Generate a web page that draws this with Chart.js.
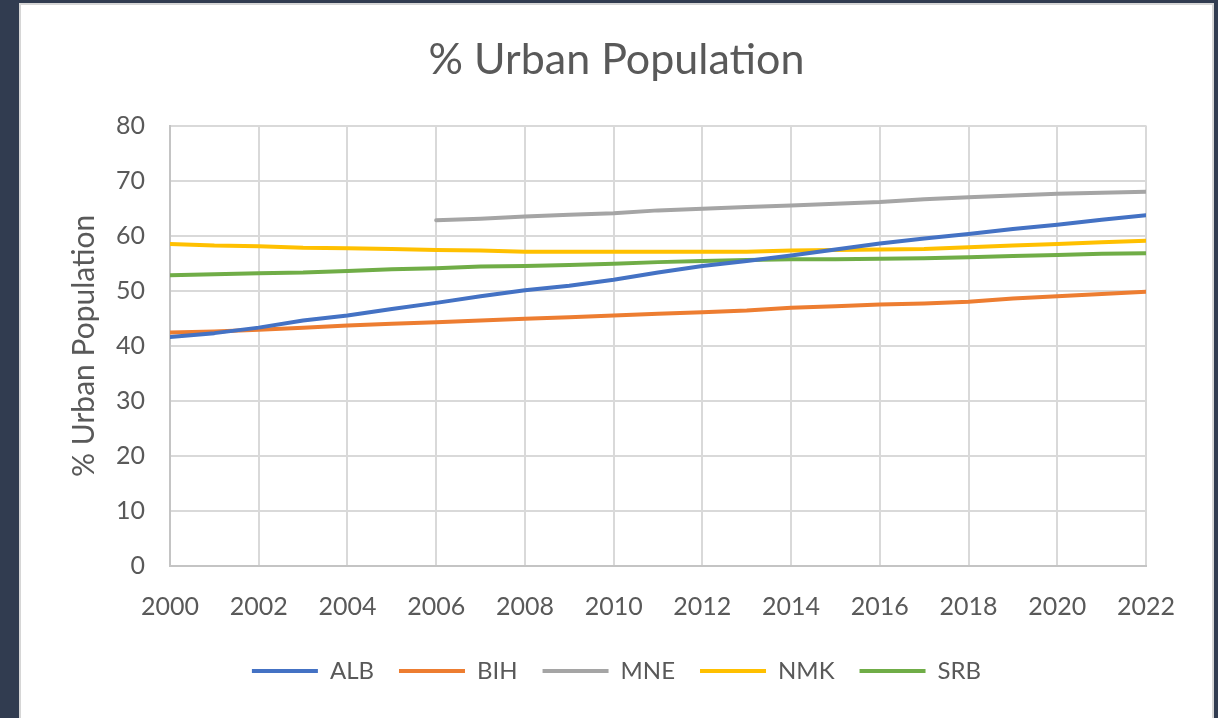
<!DOCTYPE html>
<html>
<head>
<meta charset="utf-8">
<script src="https://cdn.jsdelivr.net/npm/chart.js@4"></script>
<style>
  html, body { margin: 0; padding: 0; }
  body { width: 1218px; height: 718px; background: #313c50; position: relative; overflow: hidden; }
  #panel { position: absolute; left: 19px; top: 3px; width: 1191px; height: 730px; background: #fff; border: 2px solid #d6d6d6; }
  #wrap { position: absolute; left: 21px; top: 5px; width: 1191px; height: 713px; }
</style>
</head>
<body>
<div id="panel"></div>
<div id="wrap"><canvas id="urbanChart"></canvas></div>
<script>
// years on the x axis
const years = [2000, 2001, 2002, 2003, 2004, 2005, 2006, 2007, 2008, 2009, 2010, 2011,
               2012, 2013, 2014, 2015, 2016, 2017, 2018, 2019, 2020, 2021, 2022];

// % urban population per country
const alb = [41.6, 42.3, 43.3, 44.6, 45.5, 46.7, 47.8, 49.0, 50.1, 50.9, 52.0, 53.3,
             54.5, 55.4, 56.4, 57.5, 58.6, 59.5, 60.3, 61.2, 62.0, 62.9, 63.7];
const bih = [42.4, 42.6, 42.9, 43.3, 43.7, 44.0, 44.3, 44.6, 44.9, 45.2, 45.5, 45.8,
             46.1, 46.4, 46.9, 47.2, 47.5, 47.7, 48.0, 48.6, 49.0, 49.4, 49.8];
const mne = [null, null, null, null, null, null, 62.8, 63.1, 63.5, 63.8, 64.1, 64.6,
             64.9, 65.2, 65.5, 65.8, 66.1, 66.6, 67.0, 67.3, 67.6, 67.8, 68.0];
const nmk = [58.5, 58.2, 58.1, 57.8, 57.7, 57.6, 57.4, 57.3, 57.1, 57.1, 57.1, 57.1,
             57.1, 57.1, 57.3, 57.4, 57.5, 57.6, 57.9, 58.2, 58.5, 58.8, 59.1];
const srb = [52.8, 53.0, 53.2, 53.3, 53.6, 53.9, 54.1, 54.4, 54.5, 54.7, 54.9, 55.2,
             55.4, 55.6, 55.7, 55.7, 55.8, 55.9, 56.1, 56.3, 56.5, 56.7, 56.8];

const seriesNames = ['ALB', 'BIH', 'MNE', 'NMK', 'SRB'];
const seriesColors = ['#4472c4', '#ed7d31', '#a5a5a5', '#ffc000', '#70ad47'];
const seriesData = [alb, bih, mne, nmk, srb];

const textColor = '#595959';
const fontFamily = 'Lato, "Open Sans", sans-serif';

const datasets = seriesNames.map((name, i) => ({
    label: name,
    data: seriesData[i],
    borderColor: seriesColors[i],
    backgroundColor: seriesColors[i],
    borderWidth: 4,
    borderCapStyle: 'round',
    borderJoinStyle: 'round',
    pointRadius: 0,
    pointHoverRadius: 0,
    tension: 0,
    pointStyle: 'line',
    spanGaps: false
}));

const ctx = document.getElementById('urbanChart').getContext('2d');
new Chart(ctx, {
    type: 'line',
    data: { labels: years, datasets: datasets },
    options: {
        responsive: true,
        maintainAspectRatio: false,
        animation: false,
        layout: { padding: { left: 66, right: 66, top: 0, bottom: 25 } },
        plugins: {
            title: {
                display: true,
                text: '% Urban Population',
                color: textColor,
                font: { family: fontFamily, size: 43, weight: 'normal' },
                padding: { top: 29, bottom: 40 }
            },
            legend: {
                position: 'bottom',
                labels: {
                    usePointStyle: true,
                    pointStyleWidth: 66,
                    boxHeight: 4,
                    padding: 25,
                    color: textColor,
                    font: { family: fontFamily, size: 24 }
                }
            },
            tooltip: { enabled: false }
        },
        scales: {
            x: {
                type: 'linear',
                min: 2000,
                max: 2022,
                afterFit: function(scale) { scale.height = 68; },
                grid: { color: '#d9d9d9', lineWidth: 2, drawTicks: false },
                border: { color: '#c4c4c4', width: 2 },
                ticks: {
                    stepSize: 2,
                    padding: 26,
                    color: textColor,
                    font: { family: fontFamily, size: 25 },
                    callback: function(value) { return String(value); }
                }
            },
            y: {
                min: 0,
                max: 80,
                afterFit: function(scale) { scale.width = 83; },
                grid: { color: '#d9d9d9', lineWidth: 2, drawTicks: false },
                border: { color: '#c4c4c4', width: 2 },
                ticks: {
                    stepSize: 10,
                    padding: 25,
                    color: textColor,
                    font: { family: fontFamily, size: 25 }
                },
                title: {
                    display: true,
                    text: '% Urban Population',
                    color: textColor,
                    font: { family: fontFamily, size: 30 },
                    padding: { top: -21, bottom: 0 }
                }
            }
        }
    }
});
</script>
</body>
</html>
